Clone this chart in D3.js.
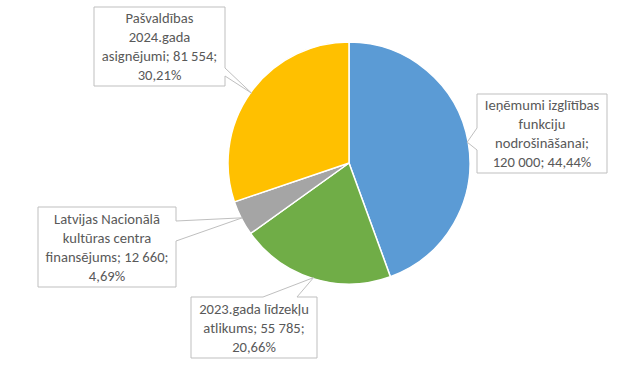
<!DOCTYPE html>
<html><head><meta charset="utf-8">
<script src="https://cdn.jsdelivr.net/npm/d3@7"></script>
<style>html,body{margin:0;padding:0;background:#fff;}svg{display:block;}</style>
</head><body>
<svg id="chart" width="643" height="366"></svg>
<script>
// ---- data ----
const categories = ["Ieņēmumi izglītības funkciju nodrošināšanai", "2023.gada līdzekļu atlikums", "Latvijas Nacionālā kultūras centra finansējums", "Pašvaldības 2024.gada asignējumi"];
const values = [120000, 55785, 12660, 81554];
const percents = ["44,44%", "20,66%", "4,69%", "30,21%"];
const valueLabels = ["120 000", "55 785", "12 660", "81 554"];
const labelLines = [
  ["Ieņēmumi izglītības", "funkciju", "nodrošināšanai;", "120 000; 44,44%"],
  ["2023.gada līdzekļu", "atlikums; 55 785;", "20,66%"],
  ["Latvijas Nacionālā", "kultūras centra", "finansējums; 12 660;", "4,69%"],
  ["Pašvaldības", "2024.gada", "asignējumi; 81 554;", "30,21%"]
];
const colors = ["#5B9BD5", "#70AD47", "#A5A5A5", "#FFC000"];

// ---- layout ----
const cx = 349, cy = 163, R = 121;
const boxes = [
  {x0: 477, y0: 94, x1: 607, y1: 173, side: "left", a: 128, b: 150},
  {x0: 191, y0: 297, x1: 317, y1: 358, side: "top", a: 263, b: 297},
  {x0: 38, y0: 207, x1: 176, y1: 287, side: "right", a: 221, b: 241},
  {x0: 94, y0: 7, x1: 225, y1: 86, side: "right", a: 68, b: 76}
];

const svg = d3.select("#chart");
const g = svg.append("g").attr("transform", `translate(${cx},${cy})`);
const pie = d3.pie().sort(null).value(d => d)(values);
const arc = d3.arc().innerRadius(0).outerRadius(R);
const edge = d3.arc().innerRadius(R - 1).outerRadius(R - 1);

g.selectAll("path.slice").data(pie).join("path")
  .attr("class", "slice")
  .attr("d", arc)
  .attr("fill", (d, i) => colors[i])
  .attr("stroke", "#fff").attr("stroke-width", 1.5).attr("stroke-linejoin", "round");

const line = 19;
boxes.forEach((b, i) => {
  const c = edge.centroid(pie[i]);
  const tx = cx + c[0], ty = cy + c[1];
  let p;
  if (b.side === "left") {
    p = [[b.x0,b.y0],[b.x1,b.y0],[b.x1,b.y1],[b.x0,b.y1],[b.x0,b.b],[tx,ty],[b.x0,b.a]];
  } else if (b.side === "right") {
    p = [[b.x0,b.y0],[b.x1,b.y0],[b.x1,b.a],[tx,ty],[b.x1,b.b],[b.x1,b.y1],[b.x0,b.y1]];
  } else {
    p = [[b.x0,b.y0],[b.a,b.y0],[tx,ty],[b.b,b.y0],[b.x1,b.y0],[b.x1,b.y1],[b.x0,b.y1]];
  }
  svg.append("path")
    .attr("d", "M" + p.map(q => q.join(",")).join("L") + "Z")
    .attr("fill", "#fff").attr("stroke", "#BFBFBF").attr("stroke-width", 1);
  const lines = labelLines[i];
  const mid = (b.y0 + b.y1) / 2;
  const first = mid - (lines.length - 1) * line / 2;
  const t = svg.append("text")
    .attr("text-anchor", "middle")
    .attr("font-family", "Carlito, Lato, 'Open Sans', sans-serif")
    .attr("font-size", 14.6).attr("fill", "#595959");
  lines.forEach((s, k) => {
    t.append("tspan").attr("x", (b.x0 + b.x1) / 2).attr("y", first + k * line)
      .attr("dominant-baseline", "central").text(s);
  });
});
</script>
</body></html>
